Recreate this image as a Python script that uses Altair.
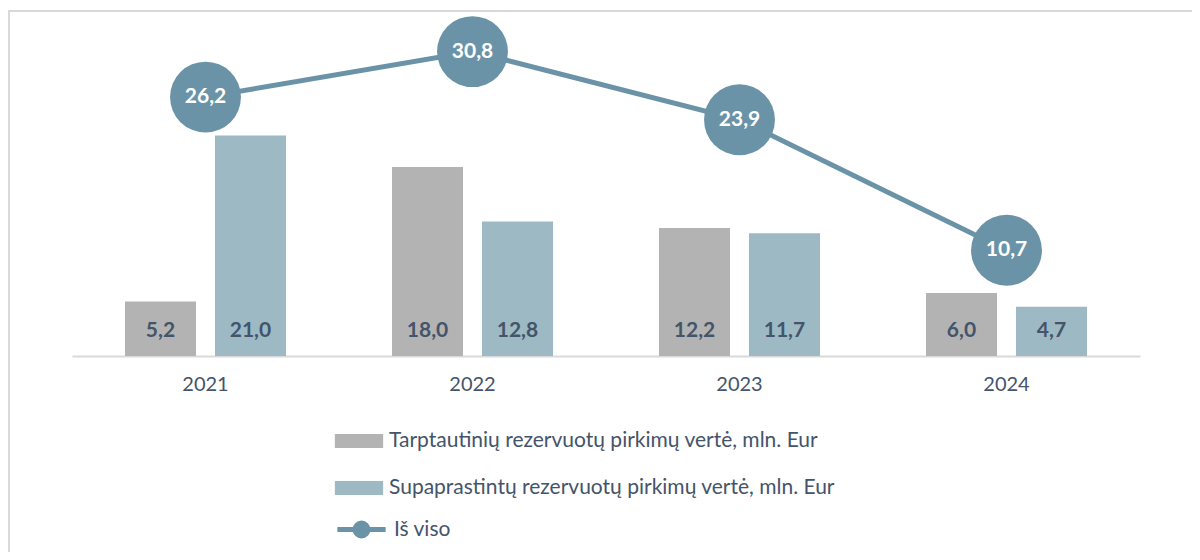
import altair as alt
import pandas as pd

years = ["2021", "2022", "2023", "2024"]
intl = [5.2, 18.0, 12.2, 6.0]
simpl = [21.0, 12.8, 11.7, 4.7]
total = [26.2, 30.8, 23.9, 10.7]
s1 = "Tarptautinių rezervuotų pirkimų vertė, mln. Eur"
s2 = "Supaprastintų rezervuotų pirkimų vertė, mln. Eur"
s3 = "Iš viso"

bars_df = pd.DataFrame({
    "year": years * 2,
    "series": [s1] * 4 + [s2] * 4,
    "value": intl + simpl,
})
line_df = pd.DataFrame({"year": years, "series": [s3] * 4, "value": total})

FONT = "Lato"
TXT = "#44546A"
GRAY = "#B3B3B3"
BLUE = "#9DB9C4"
LINEC = "#6B93A7"

x = alt.X(
    "year:N", sort=years, title=None,
    scale=alt.Scale(type="band", paddingInner=0, paddingOuter=0),
    axis=alt.Axis(labelAngle=0, ticks=False, domainColor="#D9D9D9", domainWidth=2,
                  labelFontSize=20, labelColor=TXT, labelFont=FONT, labelPadding=18,
                  grid=False),
)
xo = alt.XOffset("series:N", sort=[s1, s2],
                 scale=alt.Scale(paddingInner=0.211, paddingOuter=0.589))

rect_path = "M-1.05,-0.3L1.05,-0.3L1.05,0.3L-1.05,0.3Z"
line_path = "M-1.05,0L1.05,0M0.28,0A0.28,0.28,0,1,1,-0.28,0A0.28,0.28,0,1,1,0.28,0Z"

bscale = alt.Scale(domain=[0, 32], nice=False, zero=True)
lscale = alt.Scale(domain=[0, 34], nice=False, zero=True)

base_b = alt.Chart(bars_df).transform_calculate(
    lbl="replace(format(datum.value,'.1f'),'.',',')"
)
bars = base_b.mark_bar().encode(
    x=x, xOffset=xo,
    y=alt.Y("value:Q", scale=bscale, axis=None),
    fill=alt.Fill("series:N", sort=[s1, s2],
                  scale=alt.Scale(domain=[s1, s2], range=[GRAY, BLUE]),
                  legend=alt.Legend(orient="none", legendX=264, legendY=398,
                                    direction="vertical", title=None,
                                    symbolType=rect_path, symbolSize=2116,
                                    symbolStrokeWidth=0, labelFontSize=21,
                                    labelColor=TXT, labelFont=FONT, labelOffset=7,
                                    labelLimit=0, padding=0, rowPadding=14)),
)
blabels = base_b.mark_text(fontWeight="bold", fontSize=21, color=TXT, dy=-25,
                           font=FONT, baseline="middle").encode(
    x=x, xOffset=xo,
    y=alt.YDatum(0, scale=bscale, axis=None),
    text="lbl:N",
)
bar_layer = alt.layer(bars, blabels)

base_l = alt.Chart(line_df).transform_calculate(
    lbl="replace(format(datum.value,'.1f'),'.',',')"
)
ly = alt.Y("value:Q", scale=lscale, axis=None)
line = base_l.mark_line(strokeWidth=5).encode(
    x=x, y=ly,
    stroke=alt.Stroke("series:N",
                      scale=alt.Scale(domain=[s3], range=[LINEC]),
                      legend=alt.Legend(orient="none", legendX=264, legendY=484,
                                        title=None, symbolType=line_path,
                                        symbolSize=2116, symbolStrokeWidth=5,
                                        symbolFillColor=LINEC, labelFontSize=21,
                                        labelColor=TXT, labelFont=FONT,
                                        labelOffset=7, padding=0)),
)
circles = base_l.mark_circle(size=5027, color=LINEC, opacity=1).encode(x=x, y=ly)
clabels = base_l.mark_text(fontWeight="bold", fontSize=21, color="white",
                           font=FONT, baseline="middle").encode(x=x, y=ly, text="lbl:N")
line_layer = alt.layer(line, circles, clabels)

frame = alt.Chart(pd.DataFrame({"a": [0]})).mark_rect(
    fillOpacity=0, stroke="#D9D9D9", strokeWidth=2
).encode(x=alt.value(-63), x2=alt.value(1200), y=alt.value(-9), y2=alt.value(600))

chart = alt.layer(frame, bar_layer, line_layer).resolve_scale(y="independent").properties(
    width=1068, height=336,
    padding={"left": 64, "top": 12, "right": 52, "bottom": 196},
    autosize=alt.AutoSizeParams(type="none"),
).configure_view(strokeWidth=0)

chart.save("out.html", embed_options={"renderer": "svg", "actions": False})
